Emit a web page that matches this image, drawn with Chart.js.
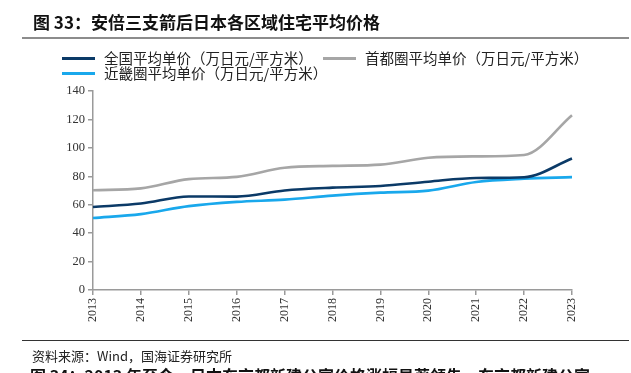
<!DOCTYPE html>
<html>
<head>
<meta charset="utf-8">
<script src="https://cdn.jsdelivr.net/npm/chart.js@4/dist/chart.umd.min.js"></script>
<style>
  html, body { margin: 0; padding: 0; background: #fff; }
  body { width: 631px; height: 373px; position: relative; overflow: hidden; font-family: "Noto Sans CJK SC", sans-serif; }
  #wrap { position: absolute; left: 0; top: 0; width: 631px; height: 373px; }
  .title { position: absolute; left: 33px; top: 11px; font-size: 17px; font-weight: bold; color: #111; white-space: nowrap; line-height: 22px; }
  .rule { position: absolute; left: 22px; right: 2px; height: 0; }
  .r1 { top: 37px; border-top: 2px solid #8c8c8c; }
  .r2 { top: 340px; border-top: 1.5px solid #333; }
  .legend-item { position: absolute; display: flex; align-items: center; white-space: nowrap; font-size: 14.5px; color: #222; line-height: 16px; }
  .legend-item .sw { width: 33px; height: 3px; margin-right: 9px; }
  .source { position: absolute; left: 32px; top: 347px; font-size: 13px; color: #222; white-space: nowrap; line-height: 18px; }
  .next { position: absolute; left: 30px; top: 364px; font-size: 16px; font-weight: bold; color: #111; white-space: nowrap; line-height: 22px; }
</style>
</head>
<body>
<div id="wrap"><canvas id="c" width="631" height="373"></canvas></div>
<div class="title">图 33：安倍三支箭后日本各区域住宅平均价格</div>
<div class="rule r1"></div>
<div id="legend"></div>
<div class="rule r2"></div>
<div class="source">资料来源：Wind，国海证券研究所</div>
<div class="next">图 34：2013 年至今，日本东京都新建公寓价格涨幅显著领先，东京都新建公寓</div>
<script>
const years = ["2013","2014","2015","2016","2017","2018","2019","2020","2021","2022","2023"];
const seriesNames = ["全国平均单价（万日元/平方米）", "首都圈平均单价（万日元/平方米）", "近畿圈平均单价（万日元/平方米）"];
const nationalAvg = [58.4, 60.8, 65.8, 65.7, 70.0, 72.0, 73.2, 76.2, 78.8, 79.3, 92.5];
const capitalAvg  = [70.2, 71.5, 78.0, 79.6, 86.0, 87.3, 88.2, 93.0, 94.0, 95.0, 123.0];
const kinkiAvg    = [50.6, 53.4, 59.0, 62.0, 63.6, 66.4, 68.5, 69.9, 76.0, 78.3, 79.4];
const yTicks = [0, 20, 40, 60, 80, 100, 120, 140];
const colors = ["#0b3a67", "#a6a6a6", "#19a8ec"];

const legendPos = [ [62, 50], [323, 50], [62, 65] ];
const legendEl = document.getElementById('legend');
seriesNames.forEach((n, i) => {
  const d = document.createElement('div');
  d.className = 'legend-item';
  d.style.left = legendPos[i][0] + 'px';
  d.style.top = legendPos[i][1] + 'px';
  d.innerHTML = '<span class="sw" style="background:' + colors[i] + '"></span><span>' + n + '</span>';
  legendEl.appendChild(d);
});

const dataSeries = [nationalAvg, capitalAvg, kinkiAvg];
new Chart(document.getElementById('c'), {
  type: 'line',
  data: {
    labels: years,
    datasets: dataSeries.map((arr, i) => ({
      label: seriesNames[i],
      data: arr,
      borderColor: colors[i],
      backgroundColor: colors[i],
      borderWidth: 2.6,
      pointRadius: 0,
      tension: 0.4,
      cubicInterpolationMode: 'monotone',
      fill: false
    }))
  },
  options: {
    responsive: false,
    animation: false,
    events: [],
    layout: { padding: { left: 0, top: 91, right: 59, bottom: 0 } },
    plugins: { legend: { display: false }, title: { display: false }, tooltip: { enabled: false } },
    scales: {
      x: {
        offset: false,
        grid: { display: true, drawOnChartArea: false, drawTicks: true, tickLength: 5, color: '#9a9a9a', lineWidth: 1.5 },
        border: { display: true, color: '#9a9a9a', width: 1.5 },
        ticks: { minRotation: 90, maxRotation: 90, autoSkip: false, padding: 3, color: '#333', font: { family: 'Liberation Serif', size: 12 } },
        afterFit: s => { s.height = 83; }
      },
      y: {
        min: 0, max: 140,
        afterBuildTicks: s => { s.ticks = yTicks.map(v => ({ value: v })); },
        grid: { display: true, drawOnChartArea: false, drawTicks: true, tickLength: 5, color: '#9a9a9a', lineWidth: 1.5 },
        border: { display: true, color: '#9a9a9a', width: 1.5 },
        ticks: { padding: 3, color: '#333', font: { family: 'Liberation Serif', size: 12.5 } },
        afterFit: s => { s.width = 93; }
      }
    }
  }
});
</script>
</body>
</html>
